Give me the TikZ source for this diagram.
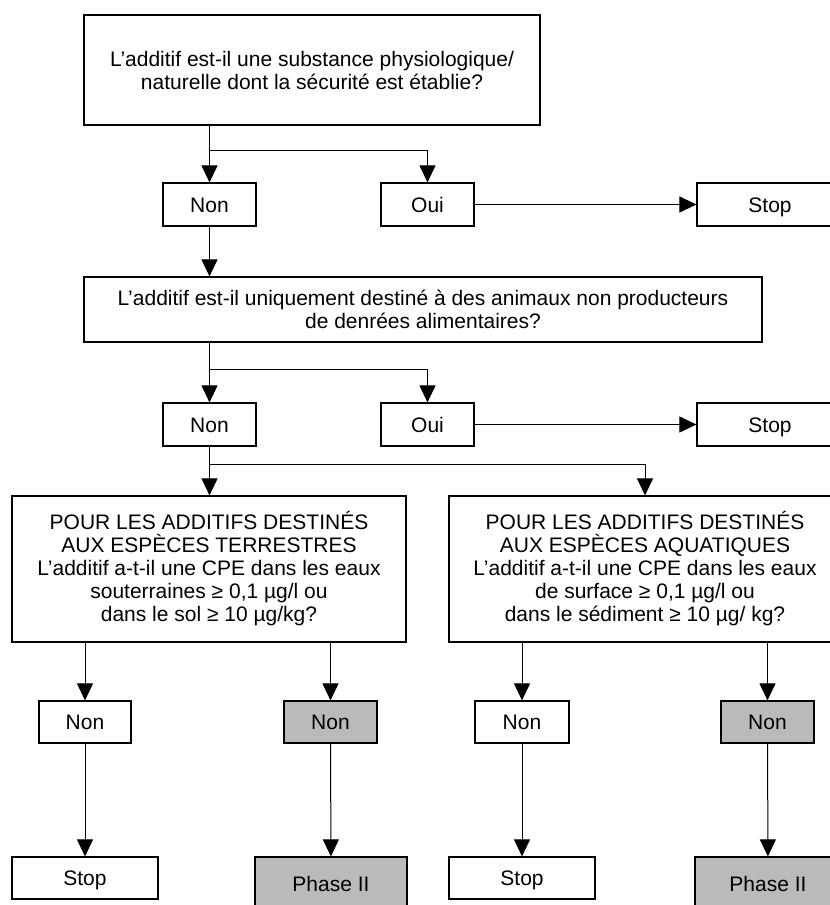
\documentclass[tikz,border=0pt]{standalone}
\usepackage{fontspec}
\setmainfont{Liberation Sans}
\usetikzlibrary{arrows.meta}
\definecolor{boxgray}{RGB}{186,186,186}
\begin{document}
\begin{tikzpicture}[x=1pt,y=-1pt,
  box/.style={draw=black,line width=1.2pt,fill=white,inner sep=0pt,align=center,
    font=\fontsize{21}{23}\selectfont},
  word/.style={box,text height=15pt,text depth=0pt},
  grey/.style={word,fill=boxgray},
  conn/.style={line width=1pt,-{Triangle[length=17pt,width=16pt]}}]
\useasboundingbox (0,0) rectangle (830,905);
\clip (0,0) rectangle (830,905);
\fill[white] (0,0) rectangle (830,905);
% row 1
\node[box,minimum width=456pt,minimum height=110pt] (q1) at (312,70)
  {L’additif est-il une substance physiologique/\\naturelle dont la sécurité est établie?};
\node[word,minimum width=93pt,minimum height=43pt] (n1) at (209.5,204.5) {Non};
\node[word,minimum width=93pt,minimum height=43pt] (o1) at (427.5,204.5) {Oui};
\node[word,minimum width=146pt,minimum height=43pt] (s1) at (770,204.5) {Stop};
% row 2
\node[box,minimum width=678pt,minimum height=65pt] (q2) at (423,309.5)
  {L’additif est-il uniquement destiné à des animaux non producteurs\\de denrées alimentaires?};
\node[word,minimum width=93pt,minimum height=43pt] (n2) at (209.5,424.5) {Non};
\node[word,minimum width=93pt,minimum height=43pt] (o2) at (427.5,424.5) {Oui};
\node[word,minimum width=146pt,minimum height=43pt] (s2) at (770,424.5) {Stop};
% row 3
\node[box,minimum width=394pt,minimum height=146pt] (t) at (209,569)
  {POUR LES ADDITIFS DESTINÉS\\AUX ESPÈCES TERRESTRES\\L’additif a-t-il une CPE dans les eaux\\souterraines ≥ 0,1 µg/l ou\\dans le sol ≥ 10 µg/kg?};
\node[box,minimum width=392pt,minimum height=146pt] (a) at (645,569)
  {POUR LES ADDITIFS DESTINÉS\\AUX ESPÈCES AQUATIQUES\\L’additif a-t-il une CPE dans les eaux\\de surface ≥ 0,1 µg/l ou\\dans le sédiment ≥ 10 µg/ kg?};
% row 4
\node[word,minimum width=92pt,minimum height=42pt] (tn) at (85,722) {Non};
\node[grey,minimum width=93pt,minimum height=42pt] (tg) at (330.5,722) {Non};
\node[word,minimum width=94pt,minimum height=42pt] (an) at (522,722) {Non};
\node[grey,minimum width=93pt,minimum height=42pt] (ag) at (767.5,722) {Non};
% row 5
\node[word,minimum width=146pt,minimum height=42pt] (ts) at (85,878) {Stop};
\node[grey,minimum width=152pt,minimum height=54pt] (tp) at (331,884) {Phase II};
\node[word,minimum width=146pt,minimum height=42pt] (as) at (522,878) {Stop};
\node[grey,minimum width=146pt,minimum height=54pt] (ap) at (768,884) {Phase II};
% connectors
\coordinate (b1) at (209.5,150);
\coordinate (b2) at (209.5,369);
\coordinate (b3) at (209.5,464);
\draw[conn] (q1.south -| n1) -- (n1.north);
\draw[conn] (b1) -| (o1.north);
\draw[conn] (o1.east) -- (s1.west);
\draw[conn] (n1.south) -- (n1.south |- q2.north);
\draw[conn] (q2.south -| n2) -- (n2.north);
\draw[conn] (b2) -| (o2.north);
\draw[conn] (o2.east) -- (s2.west);
\draw[conn] (n2.south) -- (n2.south |- t.north);
\draw[conn] (b3) -| (a.north);
\draw[conn] (t.south -| tn) -- (tn.north);
\draw[conn] (t.south -| tg) -- (tg.north);
\draw[conn] (a.south -| an) -- (an.north);
\draw[conn] (a.south -| ag) -- (ag.north);
\draw[conn] (tn) -- (ts);
\draw[conn] (tg) -- (tp);
\draw[conn] (an) -- (as);
\draw[conn] (ag) -- (ap);
\end{tikzpicture}
\end{document}
